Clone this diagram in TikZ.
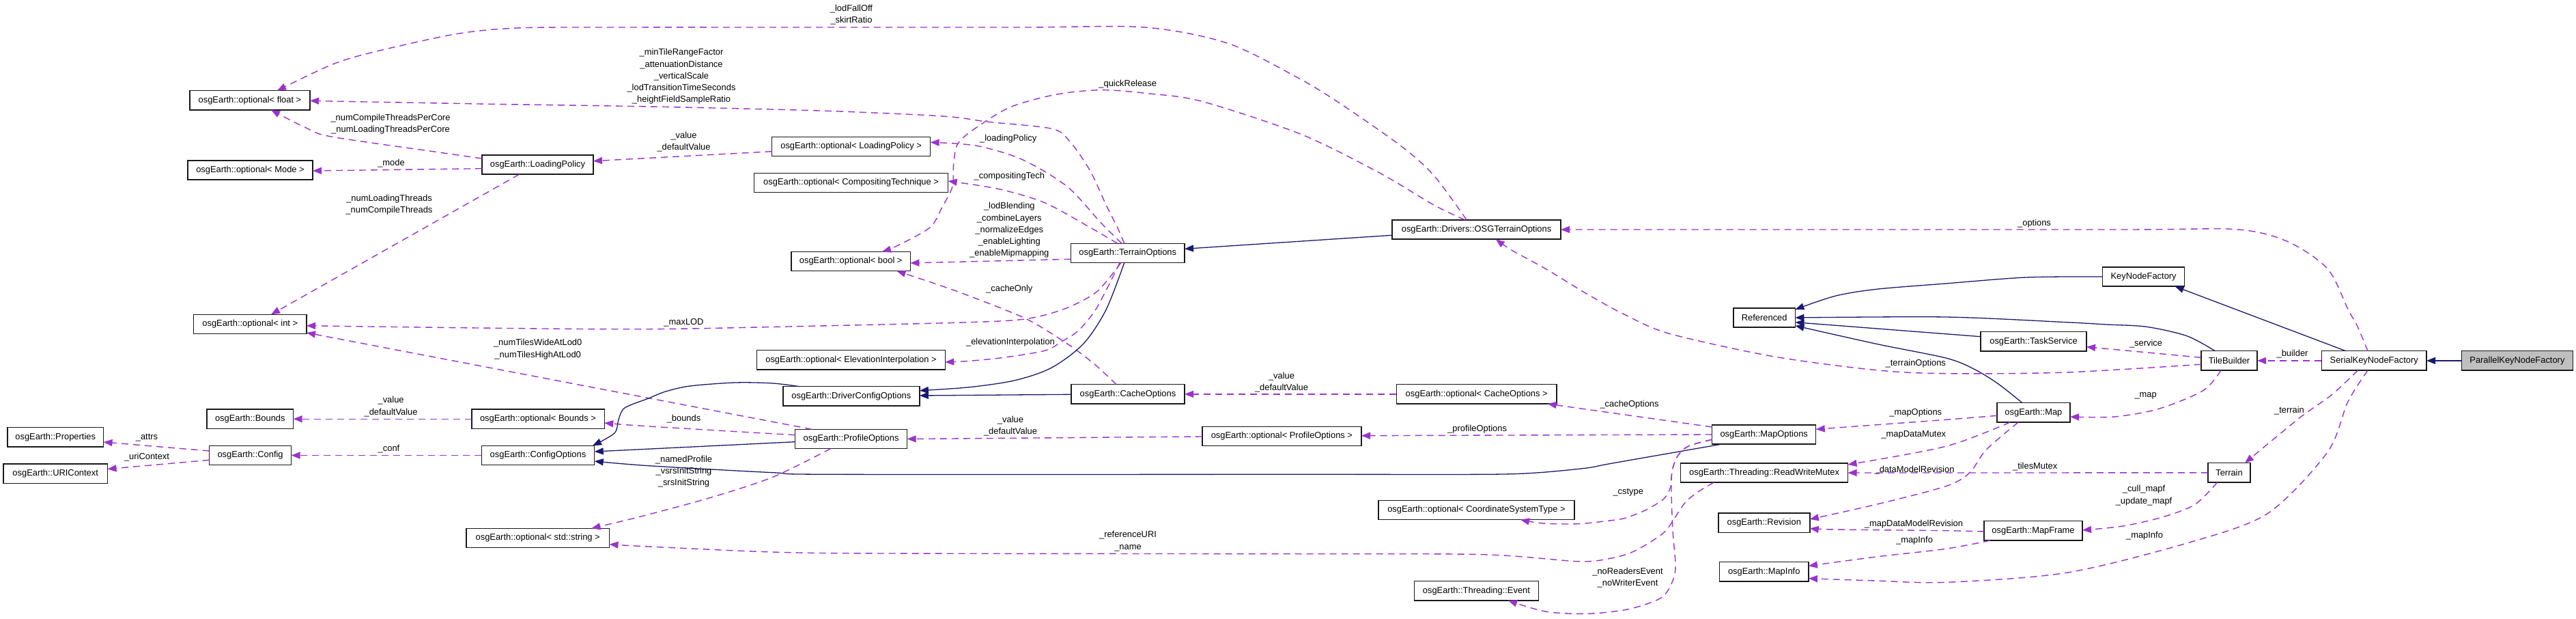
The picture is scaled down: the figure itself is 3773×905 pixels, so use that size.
\documentclass[tikz,border=0pt]{standalone}
\usepackage{fontspec}
\setmainfont{Liberation Sans}
\usetikzlibrary{arrows.meta,calc}
\definecolor{usecol}{RGB}{154,50,205}
\definecolor{inhcol}{RGB}{25,25,112}
\tikzset{
  box/.style={draw=black!90, line width=1.5pt, fill=white, minimum height=28.4pt, inner sep=0pt, font=\fontsize{12.9}{15}\selectfont},
  usage/.style={draw=usecol, line width=1.4pt, dash pattern=on 10pt off 7pt, -{Triangle[length=13pt,width=10pt]}},
  inh/.style={draw=inhcol, line width=1.3pt, -{Triangle[length=13pt,width=10pt]}},
  lbl/.style={font=\fontsize{12.9}{17.3}\selectfont, align=center, inner sep=0pt},
  sm/.style={smooth, tension=0.5}
}
\begin{document}
\begin{tikzpicture}[x=1pt,y=-1pt]
\fill[white] (0,0) rectangle (3773,905);
\useasboundingbox (0,0) rectangle (3773,905);
% nodes
\node[box, minimum width=176pt] (optFloat) at (366,146.8) {osgEarth::optional< float >};
\node[box, minimum width=183pt] (optMode) at (366.5,249) {osgEarth::optional< Mode >};
\node[box, minimum width=163pt] (loadPol) at (787.5,241) {osgEarth::LoadingPolicy};
\node[box, minimum width=232pt] (optLP) at (1246.6,214.5) {osgEarth::optional< LoadingPolicy >};
\node[box, minimum width=284pt] (optCT) at (1246.6,267.5) {osgEarth::optional< CompositingTechnique >};
\node[box, minimum width=174.5pt] (optBool) at (1246.2,382.5) {osgEarth::optional< bool >};
\node[box, minimum width=166.7pt] (terrOpt) at (1651.7,370.5) {osgEarth::TerrainOptions};
\node[box, minimum width=247pt] (osgTO) at (2162.5,336) {osgEarth::Drivers::OSGTerrainOptions};
\node[box, minimum width=165.4pt] (optInt) at (366.3,474.5) {osgEarth::optional< int >};
\node[box, minimum width=275.7pt] (optEI) at (1246.5,526.7) {osgEarth::optional< ElevationInterpolation >};
\node[box, minimum width=200pt] (dcOpt) at (1246.9,579.9) {osgEarth::DriverConfigOptions};
\node[box, minimum width=166pt] (cacheOpt) at (1652,576.9) {osgEarth::CacheOptions};
\node[box, minimum width=234.6pt] (optCO) at (2162.7,576.9) {osgEarth::optional< CacheOptions >};
\node[box, minimum width=126.6pt] (bounds) at (366.3,613.2) {osgEarth::Bounds};
\node[box, minimum width=194.5pt] (optBounds) at (788,613.2) {osgEarth::optional< Bounds >};
\node[box, minimum width=164.2pt] (profOpt) at (1246.6,642.5) {osgEarth::ProfileOptions};
\node[box, minimum width=233.3pt] (optPO) at (1877.4,638.5) {osgEarth::optional< ProfileOptions >};
\node[box, minimum width=152pt] (mapOpt) at (2583.7,636) {osgEarth::MapOptions};
\node[box, minimum width=140.6pt] (props) at (81.2,639.9) {osgEarth::Properties};
\node[box, minimum width=120pt] (config) at (366.6,666.5) {osgEarth::Config};
\node[box, minimum width=152.7pt] (uriCtx) at (81.2,693.2) {osgEarth::URIContext};
\node[box, minimum width=165.4pt] (cfgOpt) at (788,666.5) {osgEarth::ConfigOptions};
\node[box, minimum width=209.7pt] (optStr) at (787.7,787.5) {osgEarth::optional< std::string >};
\node[box, minimum width=90.5pt] (referenced) at (2584.2,465) {Referenced};
\node[box, minimum width=244.8pt] (rwMutex) at (2584.1,692) {osgEarth::Threading::ReadWriteMutex};
\node[box, minimum width=287pt] (optCST) at (2162.4,746.5) {osgEarth::optional< CoordinateSystemType >};
\node[box, minimum width=134pt] (revision) at (2583.8,765.2) {osgEarth::Revision};
\node[box, minimum width=130.3pt] (mapInfo) at (2583.7,836.8) {osgEarth::MapInfo};
\node[box, minimum width=181.7pt] (event) at (2162.4,864.8) {osgEarth::Threading::Event};
\node[box, minimum width=120pt] (keyNF) at (3139.6,405) {KeyNodeFactory};
\node[box, minimum width=155pt] (taskSvc) at (2978.5,499.8) {osgEarth::TaskService};
\node[box, minimum width=82.4pt] (tileB) at (3265,527.9) {TileBuilder};
\node[box, minimum width=153.6pt] (serialKNF) at (3477.2,527.9) {SerialKeyNodeFactory};
\node[box, minimum width=163pt, fill=black!25] (parallelKNF) at (3686.9,527.9) {ParallelKeyNodeFactory};
\node[box, minimum width=107.2pt] (map) at (2978.4,603.9) {osgEarth::Map};
\node[box, minimum width=62.4pt] (terrain) at (3265,691.9) {Terrain};
\node[box, minimum width=144pt] (mapFrame) at (2978,776.9) {osgEarth::MapFrame};

% usage edges
\draw[usage] plot[sm] coordinates {($(osgTO)+(-14.5,-14.2)$) (2100,256.7) (2051.5,213.3) (1960.6,150) (1900,113.3) (1798,63.3) (1677,40) (1500,40) (1200,40) (900,40) (757,41) (666.5,50) (545,76.7) (485,95) ($(optFloat)+(40,-14.2)$)};
\draw[usage] plot[sm] coordinates {($(terrOpt)+(-5,-14.2)$) (1636.7,333) (1620,300) (1596.7,250) (1566.7,206.7) (1540,188.3) (1446.7,178.3) (1380,170) (1200,162) (950,156) (700,152) ($(optFloat)+(88,0.7)$)};
\draw[usage] plot[sm] coordinates {($(loadPol)+(-81.5,-9)$) (636,222) (485,200) (448,187) ($(optFloat)+(31,14.2)$)};
\draw[usage] ($(loadPol)+(-81.5,5.7)$) -- ($(optMode)+(91.5,1)$);
\draw[usage] ($(loadPol)+(-27,14.2)$) -- ($(optInt)+(30.7,-14.2)$);
\draw[usage] ($(optLP)+(-116,7.2)$) -- ($(loadPol)+(81.5,-5.3)$);
\draw[usage] plot[sm] coordinates {($(terrOpt)+(-8.7,-14.2)$) (1613,326.7) (1563,273) (1496.7,233.3) (1430,213.3) ($(optLP)+(116,-6.2)$)};
\draw[usage] plot[sm] coordinates {($(terrOpt)+(-15,-14.2)$) (1596.7,333) (1530,296.7) (1463,276.7) ($(optCT)+(142,-2.5)$)};
\draw[usage] ($(terrOpt)+(-83.3,8.8)$) -- ($(optBool)+(87.2,2.5)$);
\draw[usage] plot[sm] coordinates {($(osgTO)+(-17,-14.2)$) (2100,300) (2021,253.3) (1906,196.7) (1760,148.3) (1680,136.7) (1613,131.7) (1546.7,138.3) (1480,156.7) (1430,186.7) (1403,210) (1396.7,240) (1395,273) (1380,303) (1362,333) (1313.5,360) ($(optBool)+(45.8,-14.2)$)};
\draw[usage] plot[sm] coordinates {($(cacheOpt)+(-17,-14.2)$) (1603,533) (1563,503) (1503,466.7) (1420,433.3) (1374,416.7) ($(optBool)+(67.3,14.2)$)};
\draw[usage] plot[sm] coordinates {($(terrOpt)+(-10,14.2)$) (1606.7,426.7) (1560,451.7) (1503,466.7) (1420,471.7) (1200,477) (950,481.7) (700,480) ($(optInt)+(82.7,2.2)$)};
\draw[usage] plot[sm] coordinates {($(terrOpt)+(-11.7,14.2)$) (1606.7,450) (1580,483.3) (1555,500) (1530,513.3) (1470,523.3) (1420,528.3) ($(optEI)+(137.8,3.3)$)};
\draw[usage] ($(profOpt)+(-57.6,-14.2)$) -- ($(optInt)+(82.7,12.5)$);
\draw[usage] plot[sm] coordinates {($(profOpt)+(-82.1,-5.8)$) (950,624) ($(optBounds)+(97.2,5.8)$)};
\draw[usage] ($(optBounds)+(-97.2,0)$) -- ($(bounds)+(63.3,0)$);
\draw[usage] ($(cfgOpt)+(-82.7,0)$) -- ($(config)+(60,0)$);
\draw[usage] ($(config)+(-60,-6.5)$) -- ($(props)+(70.3,7.1)$);
\draw[usage] ($(config)+(-60,6.8)$) -- ($(uriCtx)+(76.3,-6.7)$);
\draw[usage] plot[sm] coordinates {($(profOpt)+(-30,14.2)$) (1131.8,698.3) (1040.9,728.3) (950,753) (908.9,763.3) ($(optStr)+(78.7,-14.2)$)};
\draw[usage] plot[sm] coordinates {($(rwMutex)+(-74.1,14.2)$) (2487,720) (2467,737) (2443,773) (2427,787) (2393,807) (2360,817) (2312,821.7) (2172.7,811.7) (1900,810.7) (1300,810) (1131.8,808) (950,800) ($(optStr)+(104.8,9.2)$)};
\draw[usage] plot[sm] coordinates {($(mapOpt)+(-76,7.3)$) (2473,653) (2456.7,668) (2449,690) (2448,720) (2450,776.7) (2454,826.7) (2450,850) (2433,875) (2384.7,891.7) (2324,898.3) (2263.5,895) ($(event)+(46.6,14.2)$)};
\draw[usage] plot[sm] coordinates {($(mapOpt)+(-76,7.3)$) (2473,653) (2456.7,668) (2449,690) (2447,712) (2437,730) (2410,746.7) (2380,758.3) (2360,761.7) (2312,766.7) (2260,766) ($(optCST)+(64.6,14.2)$)};
\draw[usage] ($(mapOpt)+(-76,-11)$) -- ($(optCO)+(104,14.2)$);
\draw[usage] ($(mapOpt)+(-76,0)$) -- ($(optPO)+(116.6,-0.8)$);
\draw[usage] ($(optPO)+(-116.6,0.5)$) -- ($(profOpt)+(82.1,0)$);
\draw[usage] ($(optCO)+(-117.3,0)$) -- ($(cacheOpt)+(83,0)$);
\draw[usage] ($(tileB)+(-41.2,-4.6)$) -- ($(taskSvc)+(77.5,7.9)$);
\draw[usage] ($(serialKNF)+(-76.8,0)$) -- ($(tileB)+(41.2,0)$);
\draw[usage] plot[sm] coordinates {($(tileB)+(-41.2,5.4)$) (3026.6,545) (2850,546.7) (2748,541.7) (2597,521.7) (2445,488.3) (2378.7,460) (2324,430) (2263.6,393.3) (2215,366.7) ($(osgTO)+(28.3,14.2)$)};
\draw[usage] plot[sm] coordinates {($(tileB)+(-12,14.2)$) (3226.8,571.7) (3162,598.3) (3097,610) ($(map)+(53.6,6.1)$)};
\draw[usage] plot[sm] coordinates {($(serialKNF)+(-23.8,14.2)$) (3415,578) (3368,611.7) ($(terrain)+(23,-14.2)$)};
\draw[usage] plot[sm] coordinates {($(serialKNF)+(-9.2,14.2)$) (3438.7,588.3) (3409,661.7) (3321,751.7) (3203,795) (3026.6,838.3) (2850,852.3) (2748,850) ($(mapInfo)+(65.2,9.9)$)};
\draw[usage] plot[sm] coordinates {($(serialKNF)+(-9.2,-14.2)$) (3453,478) (3438.7,452) (3409,393.3) (3350,353.3) (3274,335.7) (3100,336) ($(osgTO)+(123.5,0)$)};
\draw[usage] plot[sm] coordinates {($(map)+(-53.6,4.4)$) (2850,614.3) ($(mapOpt)+(76,-7.7)$)};
\draw[usage] plot[sm] coordinates {($(map)+(-34.4,14.2)$) (2850,653.3) ($(rwMutex)+(122.4,-12)$)};
\draw[usage] ($(terrain)+(-31.2,0)$) -- ($(rwMutex)+(122.4,0)$);
\draw[usage] plot[sm] coordinates {($(map)+(-22.4,14.2)$) (2909,658.3) (2885,691.7) (2850,711.7) (2748,738.3) ($(revision)+(67,-5.2)$)};
\draw[usage] plot[sm] coordinates {($(mapFrame)+(-72,1.1)$) (2850,776.7) (2687.6,775) ($(revision)+(67,8.1)$)};
\draw[usage] plot[sm] coordinates {($(mapFrame)+(-63.2,14.2)$) (2850,803.3) (2748,815) ($(mapInfo)+(65.2,-8.5)$)};
\draw[usage] plot[sm] coordinates {($(terrain)+(-17.6,14.2)$) (3215,738.3) (3168,756.7) (3109,770) ($(mapFrame)+(72,-0.9)$)};

% inheritance edges
\draw[inh] plot[sm] coordinates {($(terrOpt)+(-5,14.2)$) (1620,453.3) (1586.7,503.3) (1540,538.3) (1486.7,556.7) (1420,566.7) ($(dcOpt)+(100,-8.2)$)};
\draw[inh] ($(cacheOpt)+(-83,0.4)$) -- ($(dcOpt)+(100,-0.9)$);
\draw[inh] ($(osgTO)+(-123.5,8.3)$) -- ($(terrOpt)+(83.3,-6.2)$);
\draw[inh] plot[sm] coordinates {($(dcOpt)+(-75.9,-14.2)$) (1131.8,561) (1077,560) (1010.6,565) (974,573.3) (950,583) (915,597) (906,614) (900,634) ($(cfgOpt)+(80,-14.2)$)};
\draw[inh] ($(profOpt)+(-82.1,4.2)$) -- ($(cfgOpt)+(82.7,-5.5)$);
\draw[inh] plot[sm] coordinates {($(mapOpt)+(-62.7,14.2)$) (2360,678.3) (2324,685) (2250,692) (2172.7,694.3) (1900,694.3) (1222.7,694.3) (1131.8,691.7) (950,681.7) ($(cfgOpt)+(82.7,8.5)$)};
\draw[inh] plot[sm] coordinates {($(keyNF)+(-60,0)$) (2967.7,406) (2850,415) (2748.3,423.3) (2687.7,433.3) ($(referenced)+(45.2,-12)$)};
\draw[inh] plot[sm] coordinates {($(tileB)+(-20.6,-14.2)$) (3203,491.7) (3144,478.3) (3085.5,475) (3026.6,471.7) (2850,464) ($(referenced)+(45.2,0)$)};
\draw[inh] ($(taskSvc)+(-77.5,-7.1)$) -- ($(referenced)+(45.2,6.7)$);
\draw[inh] plot[sm] coordinates {($(map)+(-16.4,-14.2)$) (2926.5,561.7) (2891,540) (2850,524) (2748,503.3) ($(referenced)+(45.2,11.7)$)};
\draw[inh] ($(serialKNF)+(-41.4,-14.2)$) -- ($(keyNF)+(46,14.2)$);
\draw[inh] ($(parallelKNF)+(-81.5,0)$) -- ($(serialKNF)+(76.8,0)$);

% labels
\node[lbl] (l1) at (1247,21.5) {\_lodFallOff\\\_skirtRatio};
\node[lbl] (l2) at (998,112) {\_minTileRangeFactor\\\_attenuationDistance\\\_verticalScale\\\_lodTransitionTimeSeconds\\\_heightFieldSampleRatio};
\node[lbl] (l3) at (572,182) {\_numCompileThreadsPerCore\\\_numLoadingThreadsPerCore};
\node[lbl] (l4) at (573,239) {\_mode};
\node[lbl] (l5) at (570,299.5) {\_numLoadingThreads\\\_numCompileThreads};
\node[lbl] (l6) at (1001.5,207.5) {\_value\\\_defaultValue};
\node[lbl] (l7) at (1476.7,202.7) {\_loadingPolicy};
\node[lbl] (l8) at (1478.3,258.3) {\_compositingTech};
\node[lbl] (l9) at (1478.3,337) {\_lodBlending\\\_combineLayers\\\_normalizeEdges\\\_enableLighting\\\_enableMipmapping};
\node[lbl] (l10) at (1651.7,122.7) {\_quickRelease};
\node[lbl] (l11) at (1478.3,422.7) {\_cacheOnly};
\node[lbl] (l12) at (1001.5,472.3) {\_maxLOD};
\node[lbl] (l13) at (1480,500.7) {\_elevationInterpolation};
\node[lbl] (l14) at (787.7,511.2) {\_numTilesWideAtLod0\\\_numTilesHighAtLod0};
\node[lbl] (l15) at (1001.5,612.7) {\_bounds};
\node[lbl] (l16) at (572.6,595.2) {\_value\\\_defaultValue};
\node[lbl] (l17) at (569.5,656.7) {\_conf};
\node[lbl] (l18) at (215,641) {\_attrs};
\node[lbl] (l19) at (215,668.7) {\_uriContext};
\node[lbl] (l20) at (1001.5,690.2) {\_namedProfile\\\_vsrsInitString\\\_srsInitString};
\node[lbl] (l21) at (1652,792) {\_referenceURI\\\_name};
\node[lbl] (l22) at (2384,845.5) {\_noReadersEvent\\\_noWriterEvent};
\node[lbl] (l23) at (2384.7,721) {\_cstype};
\node[lbl] (l24) at (2386.5,592.3) {\_cacheOptions};
\node[lbl] (l25) at (2163.6,627.7) {\_profileOptions};
\node[lbl] (l26) at (1480,623.3) {\_value\\\_defaultValue};
\node[lbl] (l27) at (1877,559.3) {\_value\\\_defaultValue};
\node[lbl] (l28) at (3143,502.7) {\_service};
\node[lbl] (l29) at (3357.5,518) {\_builder};
\node[lbl] (l30) at (2805.8,531.7) {\_terrainOptions};
\node[lbl] (l31) at (3142.6,579) {\_map};
\node[lbl] (l32) at (3353,600.7) {\_terrain};
\node[lbl] (l33) at (3141,784) {\_mapInfo};
\node[lbl] (l34) at (2979.5,327) {\_options};
\node[lbl] (l35) at (2805.8,603.7) {\_mapOptions};
\node[lbl] (l36) at (2802.8,636.7) {\_mapDataMutex};
\node[lbl] (l37) at (2980.7,682.7) {\_tilesMutex};
\node[lbl] (l38) at (2804,688.3) {\_dataModelRevision};
\node[lbl] (l39) at (2803,766.7) {\_mapDataModelRevision};
\node[lbl] (l40) at (2804,790.7) {\_mapInfo};
\node[lbl] (l41) at (3140,725.3) {\_cull\_mapf\\\_update\_mapf};
\end{tikzpicture}
\end{document}
